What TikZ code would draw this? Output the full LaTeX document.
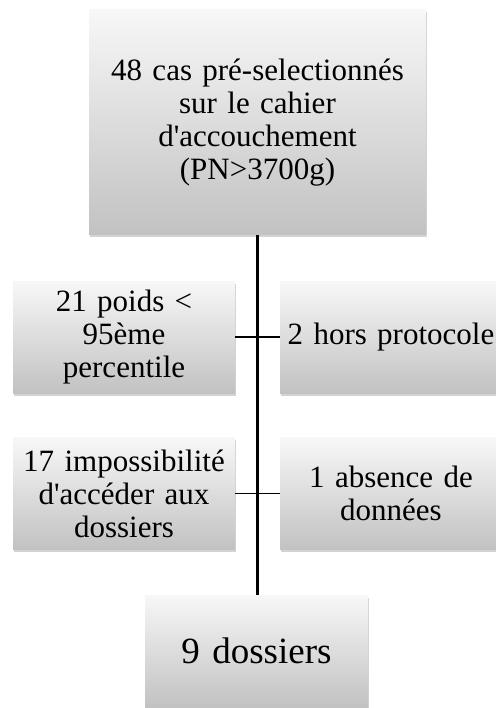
\documentclass[tikz,border=0pt]{standalone}
\usepackage{fontspec}
\setmainfont{Liberation Serif}
\usepackage{tikz}
\usetikzlibrary{shadows,positioning}
\tikzstyle{graybox} = [rectangle, top color=white!97!black, bottom color=white!76!black,
    drop shadow={shadow xshift=1pt, shadow yshift=-2.5pt, opacity=0.35},
    align=center, inner sep=2pt, font=\fontsize{31}{33}\selectfont]
\tikzstyle{sidebox} = [graybox, minimum width=222pt, minimum height=112pt, text width=216pt]
\tikzstyle{link} = [line width=1.6pt]

\begin{document}
\begin{tikzpicture}[x=1pt,y=1pt]
\useasboundingbox (0,0) rectangle (495,-708);

\node [graybox, minimum width=337pt, minimum height=225pt, text width=320pt] (cas) at (257.5,-122.5) {%
    48 cas pré-selectionnés\\ sur le cahier\\ d\textquotesingle accouchement\\ (PN>3700g)};

\node [sidebox] (poids) at (124,-337) {21 poids <\\ 95ème\\ percentile};
\node [sidebox] (hors) at (391,-337) {2 hors protocole};

\node [sidebox] (acces) at (124,-493.5) {17 impossibilité\\ d\textquotesingle accéder aux\\ dossiers};
\node [sidebox] (absence) at (391,-493.5) {1 absence de\\ données};

\node [graybox, minimum width=223pt, minimum height=112pt, text width=216pt,
    font=\fontsize{37}{40}\selectfont] (fin) at (256.5,-651) {9 dossiers};

\draw [line width=2.6pt] (cas.south) -- (cas.south |- fin.north);
\draw [link] (poids) -- (hors);
\draw [link] (acces) -- (absence);

\end{tikzpicture}
\end{document}
